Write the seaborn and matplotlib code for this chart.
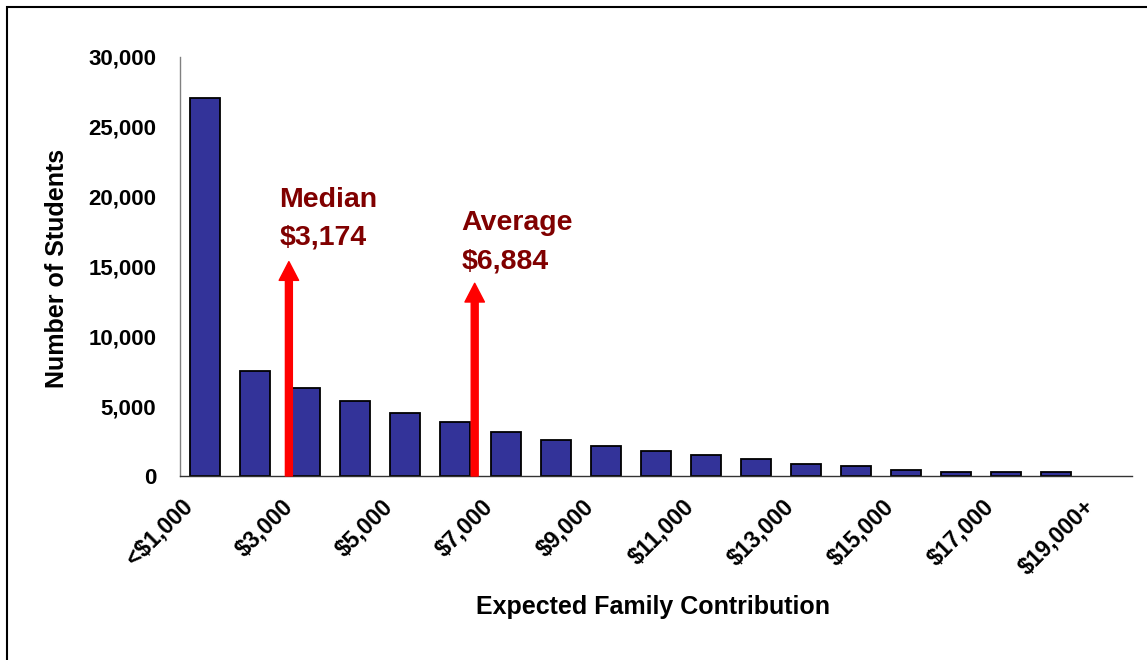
import matplotlib
matplotlib.use("Agg")
import matplotlib.pyplot as plt
import matplotlib.transforms as mtransforms
from matplotlib.patches import FancyArrowPatch, Rectangle, ArrowStyle
from matplotlib.ticker import FuncFormatter, FixedLocator
import seaborn as sns
import pandas as pd

# ---- data ----
categories = ["<$1,000", "$2,000", "$3,000", "$4,000", "$5,000", "$6,000", "$7,000",
              "$8,000", "$9,000", "$10,000", "$11,000", "$12,000", "$13,000", "$14,000",
              "$15,000", "$16,000", "$17,000", "$18,000", "$19,000+"]
students = [27100, 7550, 6330, 5370, 4540, 3850, 3180, 2600, 2180, 1790,
            1500, 1240, 840, 690, 430, 310, 300, 300, 0]
stat_names = ["Median", "Average"]
stat_values = [3174, 6884]
stat_labels = ["$3,174", "$6,884"]
arrow_tops = [15350, 13800]

sns.set_style("white")
plt.rcParams["font.family"] = ["Liberation Sans", "DejaVu Sans"]
plt.rcParams["font.weight"] = "bold"
plt.rcParams["text.color"] = "black"
plt.rcParams["axes.labelcolor"] = "black"
plt.rcParams["xtick.color"] = "black"
plt.rcParams["ytick.color"] = "black"

W, H = 1147, 660
fig = plt.figure(figsize=(W / 100, H / 100), dpi=100)
ax = fig.add_axes([180 / W, (660 - 476) / H, (1131.6 - 180) / W, (476 - 57) / H])

df = pd.DataFrame({"cat": categories, "n": students})
sns.barplot(data=df, x="cat", y="n", order=categories, color="#333399",
            edgecolor="black", linewidth=1.3, width=0.6, saturation=1, ax=ax)
for p in ax.patches:
    if p.get_height() == 0:
        p.set_visible(False)

ax.set_xlim(-0.5, len(categories) - 0.5)
ax.set_ylim(0, 30000)
ax.set_yticks(range(0, 30001, 5000))
ax.yaxis.set_major_formatter(FuncFormatter(lambda v, p: f"{int(v):,}"))

# x ticks: marks at category boundaries, labels every other category
ax.xaxis.set_major_locator(FixedLocator([i - 0.5 for i in range(len(categories) + 1)]))
ax.xaxis.set_major_formatter(FuncFormatter(lambda v, p: ""))
label_pos = list(range(0, len(categories), 2))
ax.xaxis.set_minor_locator(FixedLocator(label_pos))
ax.set_xticklabels([categories[i] for i in label_pos], minor=True)
ax.tick_params(axis="x", which="major", length=6, width=1, color="#333333", direction="out")
ax.tick_params(axis="x", which="minor", length=0, pad=10, labelsize=16.5)
ax.tick_params(axis="y", which="major", length=6, width=1, color="#333333",
               direction="out", pad=11, labelsize=16)
offset = mtransforms.ScaledTranslation(-24 / 100, -5 / 100, fig.dpi_scale_trans)
for lab in ax.get_xticklabels(minor=True):
    lab.set_rotation(45)
    lab.set_ha("right")
    lab.set_va("top")
    lab.set_rotation_mode("anchor")
    lab.set_fontweight("bold")
    lab.set_transform(lab.get_transform() + offset)
for lab in ax.get_yticklabels():
    lab.set_fontweight("bold")

for s in ["top", "right"]:
    ax.spines[s].set_visible(False)
ax.spines["left"].set_color("#808080")
ax.spines["bottom"].set_color("#333333")
ax.spines["left"].set_linewidth(1)
ax.spines["bottom"].set_linewidth(1)

ax.set_xlabel("Expected Family Contribution", fontsize=18, fontweight="bold")
ax.set_ylabel("Number of Students", fontsize=18, fontweight="bold")
ax.xaxis.set_label_coords(0.497, -0.283)
ax.yaxis.set_label_coords(-0.129, 0.496)
ax.yaxis.label.set_va("center")

# median / average arrows and labels
arrow_style = ArrowStyle.Simple(head_length=13.5, head_width=14, tail_width=5)
text_dx = [-0.19, -0.27]
text_y1 = [19280, 17610]
text_y2 = [16540, 14890]
for i in range(len(stat_names)):
    xpos = stat_values[i] / 1000 - 1.5
    arr = FancyArrowPatch((xpos, 0), (xpos, arrow_tops[i]), arrowstyle=arrow_style,
                          mutation_scale=1, color="#FF0000", shrinkA=0, shrinkB=0,
                          zorder=5, clip_on=False)
    ax.add_patch(arr)
    ax.text(xpos + text_dx[i], text_y1[i], stat_names[i], color="#800000",
            fontsize=20.5, fontweight="bold", ha="left", va="baseline")
    ax.text(xpos + text_dx[i], text_y2[i], stat_labels[i], color="#800000",
            fontsize=20.5, fontweight="bold", ha="left", va="baseline")

# outer frame
fig.patches.append(Rectangle((6.7 / W, -0.1), 1.2, (660 - 6.7) / H + 0.1,
                             transform=fig.transFigure, fill=False,
                             edgecolor="black", linewidth=1.5, clip_on=False))

fig.savefig("out.png", dpi=100)
